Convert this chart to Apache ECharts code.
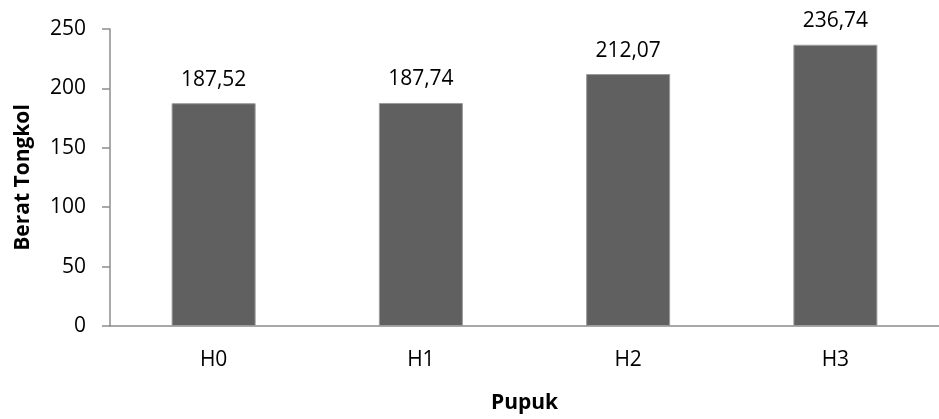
<!DOCTYPE html>
<html>
<head>
<meta charset="utf-8">
<script src="https://cdn.jsdelivr.net/npm/echarts@6/dist/echarts.min.js"></script>
<style>
  html, body { margin: 0; padding: 0; background: #fff; }
  #chart { width: 939px; height: 419px; }
</style>
</head>
<body>
<div id="chart"></div>
<script>
// Berat tongkol per perlakuan pupuk
const categories = ['H0', 'H1', 'H2', 'H3'];
const beratTongkol = [187.52, 187.74, 212.07, 236.74];
const yTicks = { min: 0, max: 250, interval: 50 };

const FONT = "'Open Sans', sans-serif";
const fmt = v => v.toFixed(2).replace('.', ',');

const chart = echarts.init(document.getElementById('chart'), null, { renderer: 'canvas' });
chart.setOption({
  animation: false,
  backgroundColor: '#ffffff',
  grid: { left: 110, top: 29, width: 842, height: 300, containLabel: false },
  xAxis: {
    type: 'category',
    data: categories,
    name: 'Pupuk',
    nameLocation: 'middle',
    nameGap: 67,
    nameTextStyle: { fontFamily: FONT, fontSize: 21, fontWeight: 'bold', color: '#000' },
    axisLine: { lineStyle: { color: '#8c8c8c', width: 1.5 } },
    axisTick: { show: false },
    axisLabel: { margin: 24, fontFamily: FONT, fontSize: 21, color: '#000' }
  },
  yAxis: {
    type: 'value',
    min: yTicks.min,
    max: yTicks.max,
    interval: yTicks.interval,
    name: 'Berat Tongkol',
    nameLocation: 'middle',
    nameGap: 76,
    nameTextStyle: { fontFamily: FONT, fontSize: 21, fontWeight: 'bold', color: '#000' },
    axisLine: { show: true, lineStyle: { color: '#8c8c8c', width: 1.5 } },
    axisTick: { show: true, length: 8, lineStyle: { color: '#8c8c8c', width: 1.5 } },
    splitLine: { show: false },
    axisLabel: { margin: 24, fontFamily: FONT, fontSize: 21, color: '#000' }
  },
  series: [{
    type: 'bar',
    data: beratTongkol,
    barWidth: 84,
    itemStyle: { color: '#606060', borderColor: '#9a9a9a', borderWidth: 1 },
    label: {
      show: true,
      position: 'top',
      distance: 13,
      fontFamily: FONT,
      fontSize: 21,
      color: '#000',
      formatter: p => fmt(p.value)
    }
  }]
});
</script>
</body>
</html>
